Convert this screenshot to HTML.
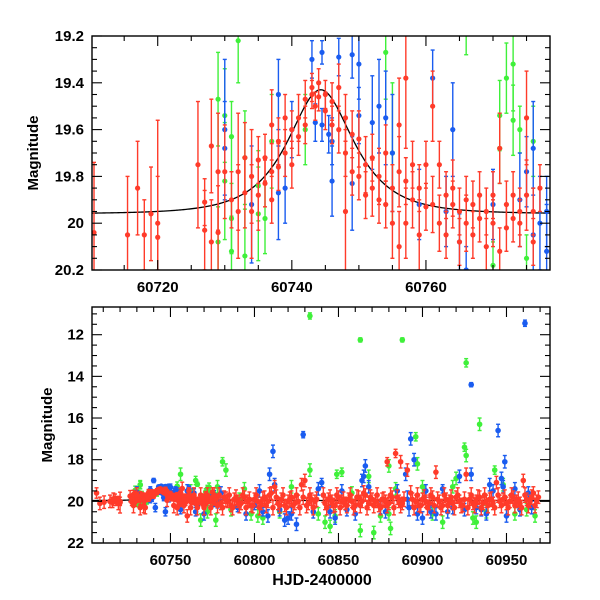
<!DOCTYPE html>
<html><head><meta charset="utf-8"><style>
html,body{margin:0;padding:0;background:#fff}
svg{display:block}
text{font-family:"Liberation Sans",sans-serif;font-weight:bold;fill:#000}
</style></head><body>
<svg id="chart" width="600" height="600" viewBox="0 0 600 600" xmlns="http://www.w3.org/2000/svg"></svg>
<script>
// ---- data: [HJD-2400000, magnitude, error] ----
const topRed = [[60710.5,20.04,0.3],[60715.5,20.05,0.25],[60717,19.85,0.2],[60718,20.05,0.15],[60719,19.96,0.2],[60720,20.0,0.2],[60720,20.06,0.5],
[60726,19.75,0.27],[60727,20.03,0.17],[60727,19.91,0.1],[60728,19.67,0.2],[60728,20.08,0.18],[60729,19.78,0.25],[60729,20.04,0.2],[60730,19.78,0.2],[60731,19.9,0.12],[60732,19.95,0.2],[60732,19.78,0.25],[60733,19.87,0.15],[60733,19.72,0.15],[60734,19.8,0.2],[60734,19.95,0.2],[60735,19.73,0.1],[60735,19.88,0.15],[60736,19.83,0.1],[60736,19.72,0.1],[60737,19.58,0.15],[60737,19.9,0.1],[60737,19.78,0.12],[60738,19.65,0.1],[60738,19.76,0.1],[60739,19.55,0.1],[60739,19.7,0.1],[60740,19.6,0.08],[60740,19.75,0.1],[60741,19.55,0.1],[60741,19.63,0.08],[60742,19.47,0.08],[60742,19.58,0.08],[60743,19.45,0.06],[60743,19.42,0.06],[60743.5,19.5,0.06],[60744,19.4,0.06],[60744,19.46,0.06],[60745,19.45,0.06],[60745,19.52,0.08],[60746,19.48,0.08],[60746,19.58,0.08],[60747,19.6,0.1],[60747,19.42,0.1],[60748,19.55,0.1],[60748,19.7,0.1],[60748,19.95,0.3],[60749,19.62,0.1],[60749,19.78,0.1],[60750,19.64,0.12],[60750,19.8,0.1],[60751,19.75,0.12],[60751,19.88,0.1],[60752,19.85,0.12],[60752,19.72,0.1],[60753,19.8,0.12],[60753,19.9,0.1],[60754,19.7,0.12],[60754,19.92,0.1],[60755,19.85,0.1],[60755,20.0,0.15],[60756,19.58,0.2],[60756,19.78,0.15],[60756,20.1,0.15],[60757,19.38,0.3],[60757,19.82,0.1],[60757,20.0,0.15],[60758,19.9,0.12],[60758,19.75,0.1],[60759,20.05,0.15],[60759,19.85,0.1],[60760,19.75,0.1],[60760,19.93,0.1],[60761,19.5,0.15],[60761,19.92,0.12],[60762,20.0,0.12],[60762,19.75,0.1],[60763,19.88,0.1],[60763,20.05,0.1],[60764,19.92,0.1],[60764,19.85,0.12],[60765,19.95,0.1],[60765,20.08,0.1],[60766,19.9,0.1],[60766,20.0,0.12],[60767,19.92,0.1],[60767,20.05,0.1],[60768,19.98,0.1],[60768,19.88,0.1],[60769,19.95,0.1],[60769,20.1,0.12],[60770,19.88,0.1],[60770,20.0,0.1],[60771,19.68,0.15],[60771,20.12,0.1],[60772,19.92,0.1],[60772,20.02,0.1],[60773,19.98,0.1],[60773,19.88,0.1],[60774,20.0,0.1],[60774,19.95,0.1],[60775,19.55,0.2],[60775,19.88,0.15],[60776,19.95,0.1],[60776,20.08,0.1],[60777,19.85,0.1]];
const topBlue = [[60730,19.6,0.3],[60730,19.68,0.2],[60734,19.92,0.25],[60738,19.87,0.2],[60738,19.45,0.15],[60739,19.85,0.15],[60740,19.6,0.12],[60743,19.3,0.08],[60743.5,19.57,0.08],[60744.5,19.27,0.05],[60744.5,19.58,0.07],[60745.5,19.62,0.08],[60746,19.65,0.1],[60746,19.82,0.15],[60747,19.29,0.08],[60749,19.28,0.1],[60749,19.83,0.2],[60750,19.32,0.15],[60750,19.54,0.12],[60752,19.57,0.2],[60753,19.5,0.2],[60754,19.55,0.2],[60755,19.7,0.25],[60759,19.92,0.15],[60761,19.38,0.12],[60763,19.95,0.15],[60764,19.6,0.2],[60765,20.08,0.12],[60766,20.2,0.1],[60770,19.92,0.15],[60774,19.9,0.2],[60775,19.78,0.15],[60776,19.68,0.2],[60776,20.05,0.2],[60777,20.0,0.2],[60778,19.95,0.15],[60778,20.12,0.2]];
const topGreen = [[60729,19.47,0.2],[60729,20.08,0.15],[60730,19.54,0.2],[60730,19.82,0.25],[60731,19.63,0.15],[60731,19.98,0.15],[60731,20.12,0.15],[60732,19.22,0.18],[60733,19.72,0.2],[60733,20.14,0.2],[60735,19.84,0.15],[60735,19.96,0.2],[60736,19.98,0.15],[60737,19.65,0.2],[60742,19.6,0.15],[60754,19.27,0.2],[60755,19.7,0.3],[60766,19.18,0.1],[60770,20.18,0.1],[60771,19.54,0.15],[60771,19.68,0.15],[60772,19.38,0.15],[60773,19.32,0.2],[60773,19.56,0.15],[60774,19.6,0.1],[60775,20.15,0.1],[60776,19.65,0.15]];
// additional full-season points (bottom panel) [t, mag, err]
const extraRed = [[60706,19.6,0.25],[60708,20.1,0.3],[60714,20.0,0.3],[60716,19.9,0.3],[60719,20.1,0.3],[60735,20.3,0.3],[60760,20.7,0.3],[60780,20.1,0.3],[60782,19.8,0.3],[60784,20.0,0.3],[60786,20.2,0.3],[60788,19.9,0.3],[60790,20.0,0.3],[60792,20.1,0.3],[60794,19.8,0.3],[60796,20.0,0.3],[60798,20.2,0.3],[60800,19.9,0.3],[60802,20.0,0.3],[60804,20.1,0.3],[60806,19.8,0.3],[60808,20.0,0.3],[60810,19.6,0.3],[60812,19.3,0.3],[60814,20.1,0.3],[60816,19.9,0.3],[60818,20.2,0.3],[60820,20.0,0.3],[60822,19.8,0.3],[60824,20.1,0.3],[60826,20.0,0.3],[60828,19.2,0.3],[60830,19.0,0.3],[60832,20.1,0.3],[60834,19.9,0.3],[60836,20.0,0.3],[60842,20.1,0.3],[60844,19.9,0.3],[60846,20.0,0.3],[60848,20.2,0.3],[60850,19.8,0.3],[60852,20.0,0.3],[60854,20.1,0.3],[60856,19.9,0.3],[60858,20.0,0.3],[60860,20.2,0.3],[60862,19.8,0.3],[60864,20.0,0.3],[60866,19.7,0.3],[60868,20.1,0.3],[60870,19.9,0.3],[60872,20.0,0.3],[60874,20.2,0.3],[60876,19.9,0.3],[60878,20.0,0.3],[60879,18.1,0.2],[60880,20.1,0.3],[60882,19.8,0.3],[60884,17.7,0.2],[60886,20.0,0.3],[60887,18.1,0.3],[60888,20.1,0.3],[60891,18.5,0.3],[60894,19.9,0.3],[60896,20.0,0.3],[60898,20.2,0.3],[60900,19.9,0.3],[60902,20.0,0.3],[60904,20.1,0.3],[60906,19.8,0.3],[60908,18.6,0.3],[60910,20.0,0.3],[60912,20.2,0.3],[60914,19.9,0.3],[60916,20.0,0.3],[60918,20.1,0.3],[60920,19.8,0.3],[60922,20.0,0.3],[60924,20.2,0.3],[60926,18.7,0.3],[60928,19.9,0.3],[60930,20.1,0.3],[60932,20.0,0.3],[60934,19.8,0.3],[60936,20.1,0.3],[60938,20.0,0.3],[60940,19.9,0.3],[60942,20.1,0.3],[60944,19.1,0.3],[60946,20.0,0.3],[60948,19.9,0.3],[60950,20.1,0.3],[60952,20.0,0.3],[60954,19.8,0.3],[60956,20.0,0.3],[60958,20.1,0.3],[60960,19.0,0.3],[60962,19.9,0.3],[60964,20.0,0.3],[60966,19.6,0.3],[60968,20.0,0.3]];
const extraRed2 = [[60779,19.7,0.35],[60781,20.3,0.35],[60783,19.9,0.35],[60785,19.7,0.35],[60787,20.3,0.35],[60789,19.8,0.35],[60791,20.2,0.35],[60793,19.7,0.35],[60795,20.3,0.35],[60797,19.9,0.35],[60799,20.2,0.35],[60801,19.7,0.35],[60803,20.3,0.35],[60805,19.9,0.35],[60807,20.2,0.35],[60809,19.7,0.35],[60811,20.3,0.35],[60813,19.8,0.35],[60815,20.2,0.35],[60817,19.7,0.35],[60819,20.3,0.35],[60821,19.9,0.35],[60823,20.2,0.35],[60825,19.7,0.35],[60827,20.3,0.35],[60829,19.8,0.35],[60831,20.2,0.35],[60833,19.7,0.35],[60835,20.3,0.35],[60837,19.9,0.35],[60841,19.7,0.35],[60843,20.3,0.35],[60845,19.8,0.35],[60847,20.2,0.35],[60849,19.7,0.35],[60851,20.3,0.35],[60853,19.9,0.35],[60855,20.2,0.35],[60857,19.7,0.35],[60859,20.3,0.35],[60861,19.8,0.35],[60863,20.2,0.35],[60865,19.6,0.35],[60867,20.3,0.35],[60869,19.8,0.35],[60871,20.2,0.35],[60873,19.7,0.35],[60875,20.3,0.35],[60877,19.9,0.35],[60879,20.2,0.35],[60881,19.7,0.35],[60883,20.3,0.35],[60885,19.8,0.35],[60887,20.2,0.35],[60889,19.9,0.35],[60893,19.6,0.35],[60895,20.3,0.35],[60897,19.7,0.35],[60899,20.2,0.35],[60901,19.8,0.35],[60903,20.3,0.35],[60905,19.7,0.35],[60907,20.2,0.35],[60909,19.9,0.35],[60911,20.3,0.35],[60913,19.7,0.35],[60915,20.2,0.35],[60917,19.8,0.35],[60919,20.3,0.35],[60921,19.7,0.35],[60923,20.2,0.35],[60925,19.9,0.35],[60927,20.3,0.35],[60929,19.7,0.35],[60931,20.2,0.35],[60933,19.8,0.35],[60935,20.3,0.35],[60937,19.7,0.35],[60939,20.2,0.35],[60941,19.9,0.35],[60943,20.3,0.35],[60945,19.7,0.35],[60947,20.2,0.35],[60949,19.8,0.35],[60951,20.3,0.35],[60953,19.7,0.35],[60955,20.2,0.35],[60957,19.9,0.35],[60959,20.3,0.35],[60961,19.7,0.35],[60963,20.2,0.35],[60965,19.8,0.35],[60967,20.2,0.35],[60969,19.8,0.3],
[60728,20.2,0.35],[60730,19.7,0.35],[60732,20.3,0.35],[60734,20.2,0.35],[60752,20.2,0.35],[60754,20.3,0.35],[60758,20.2,0.35],[60762,20.3,0.35],[60764,19.7,0.35],[60766,20.3,0.35],[60768,19.7,0.35],[60770,20.3,0.35],[60772,19.7,0.35],[60774,20.3,0.35],[60776,19.7,0.35],[60778,20.2,0.35]];
const extraBlue = [[60740,19.0,0.1],[60741,20.3,0.2],[60747,20.5,0.2],[60756,20.4,0.2],[60765,20.5,0.2],[60790,20.3,0.2],[60800,20.2,0.2],[60805,20.5,0.2],[60809,18.7,0.3],[60811,17.6,0.3],[60815,20.4,0.3],[60820,20.8,0.3],[60825,21.1,0.3],[60829,16.8,0.15],[60840,19.1,0.2],[60845,20.5,0.3],[60855,20.4,0.3],[60865,18.8,0.3],[60866,18.3,0.3],[60875,20.3,0.3],[60890,18.7,0.3],[60893,17.0,0.3],[60895,18.0,0.3],[60900,20.8,0.3],[60905,20.5,0.3],[60912,19.4,0.2],[60918,20.3,0.3],[60922,18.8,0.3],[60929,14.4,0.1],[60929,18.7,0.3],[60935,20.4,0.3],[60940,19.2,0.3],[60945,16.6,0.3],[60947,18.9,0.3],[60949,18.1,0.3],[60955,19.4,0.3],[60961,11.45,0.15],[60965,20.3,0.3],
[60760,19.5,0.3],[60770,20.6,0.3],[60780,19.6,0.3],[60795,20.6,0.3],[60803,19.5,0.3],[60808,20.7,0.3],[60812,19.2,0.3],[60818,20.9,0.3],[60822,20.6,0.3],[60835,20.5,0.3],[60838,19.4,0.3],[60848,20.8,0.3],[60852,19.5,0.3],[60860,20.6,0.3],[60864,19.0,0.3],[60868,19.3,0.3],[60878,20.5,0.3],[60885,19.5,0.3],[60891,19.9,0.4],[60892,20.3,0.4],[60897,20.6,0.3],[60902,19.5,0.3],[60908,20.6,0.3],[60915,20.5,0.3],[60925,20.4,0.3],[60932,20.3,0.3],[60938,20.6,0.3],[60942,19.5,0.3],[60948,19.3,0.3],[60950,20.7,0.3],[60958,20.4,0.3],[60963,19.6,0.3]];
const extraGreen = [[60732,19.2,0.2],[60756,18.7,0.3],[60765,19.0,0.2],[60768,20.9,0.3],[60777,20.9,0.3],[60781,18.1,0.2],[60783,18.5,0.3],[60791,19.9,0.3],[60798,20.6,0.3],[60805,20.8,0.3],[60833,11.1,0.15],[60833,18.5,0.3],[60842,21.0,0.3],[60845,21.2,0.3],[60849,18.7,0.2],[60852,18.6,0.2],[60863,12.25,0.1],[60863,21.4,0.3],[60871,21.5,0.3],[60880,18.3,0.3],[60880,20.6,0.3],[60881,21.3,0.3],[60888,12.25,0.1],[60896,16.9,0.2],[60897,18.2,0.3],[60920,18.9,0.3],[60925,17.4,0.2],[60926,17.8,0.3],[60926,13.35,0.2],[60932,21.0,0.3],[60934,16.3,0.3],[60943,18.5,0.2],[60955,20.6,0.3],[60967,20.7,0.3],
[60762,19.5,0.3],[60772,20.5,0.3],[60778,19.3,0.3],[60786,20.4,0.3],[60794,19.4,0.3],[60802,20.7,0.3],[60815,20.5,0.3],[60822,19.3,0.3],[60838,20.6,0.3],[60848,20.7,0.3],[60858,19.6,0.3],[60868,18.8,0.3],[60875,20.7,0.3],[60884,19.4,0.3],[60900,19.3,0.3],[60906,20.6,0.3],[60912,21.0,0.3],[60918,19.3,0.3],[60930,20.8,0.3],[60938,20.5,0.3],[60948,19.2,0.3],[60962,20.4,0.3]];
// microlensing model parameters
const modelT0 = [60744.3];
const modelU0 = [0.73];
const modelTE = [7.0];
const modelBase = [19.96];

const NS='http://www.w3.org/2000/svg';
const svg=document.getElementById('chart');
const COL={red:'#ff3b2a',blue:'#1a5cf0',green:'#3ff03a'};
function el(tag,attrs,parent){const e=document.createElementNS(NS,tag);for(const k in attrs)e.setAttribute(k,attrs[k]);(parent||svg).appendChild(e);return e;}

function panel(cfg){
  const g=el('g',{});
  
  
  const X=v=>cfg.x0+(v-cfg.xmin)/(cfg.xmax-cfg.xmin)*(cfg.x1-cfg.x0);
  const Y=v=>cfg.y0+(v-cfg.ymin)/(cfg.ymax-cfg.ymin)*(cfg.y1-cfg.y0);
  const cp='clip-'+cfg.name;
  const defs=el('defs',{},g);
  const c=el('clipPath',{id:cp},defs);
  el('rect',{x:cfg.x0,y:cfg.y0,width:cfg.x1-cfg.x0,height:cfg.y1-cfg.y0},c);
  const plot=el('g',{'clip-path':'url(#'+cp+')'},g);
  if(cfg.model){
    let d='';
    for(let px=cfg.x0;px<=cfg.x1;px+=1){
      const t=cfg.xmin+(px-cfg.x0)/(cfg.x1-cfg.x0)*(cfg.xmax-cfg.xmin);
      const tau=(t-modelT0[0])/modelTE[0];const u=Math.sqrt(modelU0[0]*modelU0[0]+tau*tau);
      const A=(u*u+2)/(u*Math.sqrt(u*u+4));
      d+=(d?'L':'M')+px.toFixed(1)+','+Y(modelBase[0]-2.5*Math.log10(A)).toFixed(2);
    }
    const m=el('path',{d:d,fill:'none',stroke:'#000','stroke-width':1.3},plot);
    
    
  }
  cfg.series.forEach(s=>{
    const sg=el('g',{stroke:COL[s.color],fill:COL[s.color],'stroke-width':1.4},plot);
    
    
    s.data.forEach(p=>{
      const x=X(p[0]),y=Y(p[1]),ya=Y(p[1]-p[2]),yb=Y(p[1]+p[2]);
      el('line',{x1:x,x2:x,y1:ya,y2:yb},sg);
      el('line',{x1:x-2,x2:x+2,y1:ya,y2:ya},sg);
      el('line',{x1:x-2,x2:x+2,y1:yb,y2:yb},sg);
      const pt=el('circle',{cx:x,cy:y,r:cfg.r,stroke:'none'},sg);
      
      
    });
  });
  const fr=el('rect',{x:cfg.x0,y:cfg.y0,width:cfg.x1-cfg.x0,height:cfg.y1-cfg.y0,fill:'none',stroke:'#000','stroke-width':1.4},g);
  
  
  const tk=el('g',{stroke:'#000','stroke-width':1.1},g);
  const eps=1e-6;
  for(let v=Math.ceil(cfg.xmin/cfg.xminor)*cfg.xminor;v<=cfg.xmax;v+=cfg.xminor){
    const maj=Math.abs(v/cfg.xmajor-Math.round(v/cfg.xmajor))<eps;const L=maj?10:5;const x=X(v);
    el('line',{x1:x,x2:x,y1:cfg.y1,y2:cfg.y1-L},tk);el('line',{x1:x,x2:x,y1:cfg.y0,y2:cfg.y0+L},tk);
    if(maj){const t=el('text',{x:x,y:cfg.y1+22,'text-anchor':'middle','font-size':15},g);t.textContent=v;
      }
  }
  for(let i=0;;i++){
    const v=+(cfg.yFirst+i*cfg.yminor).toFixed(4);if(v>cfg.ymax+eps)break;if(v<cfg.ymin-eps)continue;
    const r=v/cfg.ymajor;const maj=Math.abs(r-Math.round(r))<1e-4;const L=maj?10:5;const y=Y(v);
    el('line',{x1:cfg.x0,x2:cfg.x0+L,y1:y,y2:y},tk);el('line',{x1:cfg.x1,x2:cfg.x1-L,y1:y,y2:y},tk);
    if(maj){const t=el('text',{x:cfg.x0-8,y:y+5,'text-anchor':'end','font-size':15},g);t.textContent=+v.toFixed(2);
      }
  }
  const yl=el('text',{x:0,y:0,'text-anchor':'middle','font-size':15,transform:'translate('+cfg.ylx+','+((cfg.y0+cfg.y1)/2)+') rotate(-90)'},g);
  yl.textContent='Magnitude';
}

panel({name:'zoom-panel',x0:92,x1:550,y0:36,y1:270,xmin:60710.2,xmax:60778.5,ymin:19.2,ymax:20.2,
  xmajor:20,xminor:5,ymajor:0.2,yminor:0.05,yFirst:19.2,ylx:38,model:true,r:2.6,
  series:[{color:'green',data:topGreen},{color:'blue',data:topBlue},{color:'red',data:topRed}]});
panel({name:'full-panel',x0:92,x1:550,y0:307,y1:543,xmin:60703.3,xmax:60975.9,ymin:10.67,ymax:22,
  xmajor:50,xminor:10,ymajor:2,yminor:0.5,yFirst:11,ylx:52,model:true,r:2.8,
  series:[{color:'green',data:topGreen.concat(extraGreen)},{color:'blue',data:topBlue.concat(extraBlue)},{color:'red',data:topRed.concat(extraRed,extraRed2)}]});
const xt=el('text',{x:322,y:585,'text-anchor':'middle','font-size':16,'font-family':'Liberation Mono, monospace'});
xt.textContent='HJD-2400000';


</script>
</body></html>
